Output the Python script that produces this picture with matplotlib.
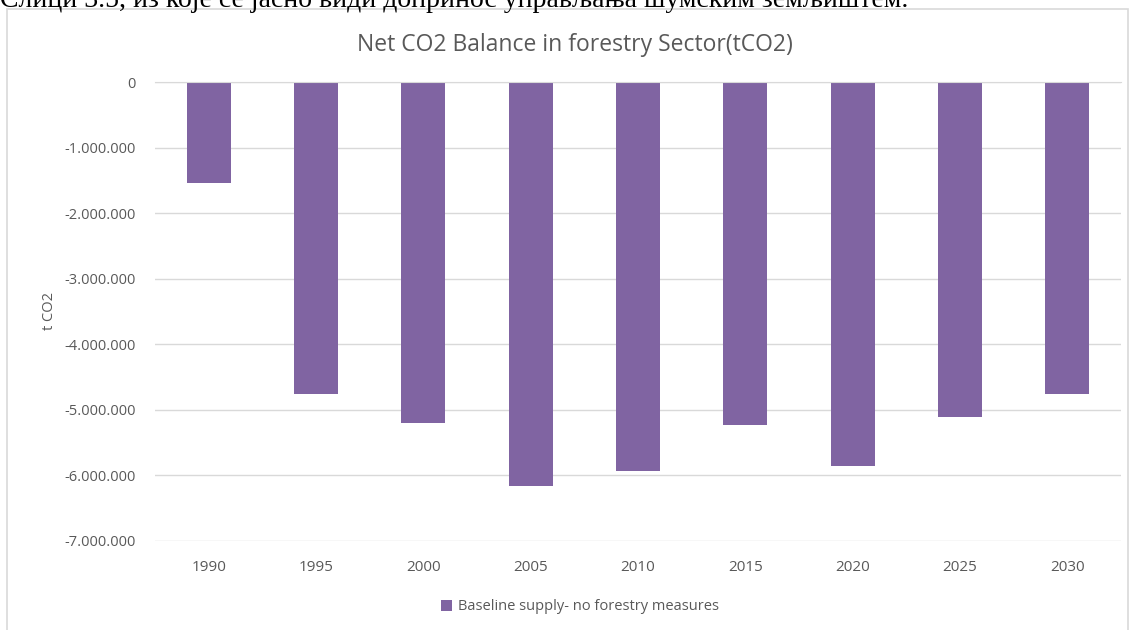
import matplotlib.pyplot as plt
from matplotlib.patches import Rectangle
from matplotlib.ticker import FuncFormatter

years = ['1990', '1995', '2000', '2005', '2010', '2015', '2020', '2025', '2030']
balance = [-1540000, -4760000, -5200000, -6160000, -5930000, -5230000, -5850000, -5110000, -4760000]
yticks = [0, -1000000, -2000000, -3000000, -4000000, -5000000, -6000000, -7000000]

purple = '#8064A2'
grey_text = '#595959'
grid_col = '#D9D9D9'

plt.rcParams['font.family'] = ['Open Sans', 'DejaVu Sans']

W, H = 1135, 630
fig = plt.figure(figsize=(W / 100, H / 100), dpi=100)

# caption line of the surrounding document, cut at the top
fig.text(0.0, 1 - 7 / H, 'Слици 3.5, из које се јасно види допринос управљања шумским земљиштем.',
         family='Liberation Serif', fontsize=20, color='black', va='baseline', ha='left')

# chart frame
fig.patches.append(Rectangle((7 / W, -0.01), 1121 / W, 1 - 9 / H + 0.01,
                             transform=fig.transFigure, fill=False, edgecolor=grid_col, lw=1.2))

ax = fig.add_axes([155 / W, 1 - 541 / H, 966 / W, 459 / H])
x = range(len(years))
ax.bar(x, balance, width=0.41, color=purple, label='Baseline supply- no forestry measures', zorder=2)

ax.set_xlim(-0.5, len(years) - 0.5)
ax.set_ylim(-7000000, 0)
ax.set_yticks(yticks)
ax.yaxis.set_major_formatter(FuncFormatter(lambda v, p: f'{int(v):,}'.replace(',', '.')))
ax.set_xticks(list(x))
ax.set_xticklabels(years)
ax.grid(axis='y', color=grid_col, lw=1, zorder=0)
ax.tick_params(axis='y', length=0, labelsize=10.5, labelcolor=grey_text, pad=14)
ax.tick_params(axis='x', length=0, labelsize=11, labelcolor=grey_text, pad=14)
for s in ['left', 'right', 'bottom']:
    ax.spines[s].set_visible(False)
ax.spines['top'].set_color(grid_col)
ax.set_ylabel('t CO2', fontsize=10.5, color=grey_text, labelpad=5)

fig.text(575 / W, 1 - 45 / H, 'Net CO2 Balance in forestry Sector(tCO2)',
         fontsize=16.5, color=grey_text, ha='center', va='center')

fig.legend(loc='center', bbox_to_anchor=(580 / W, 1 - 607 / H), frameon=False,
           fontsize=10.5, labelcolor=grey_text, handlelength=0.7, handleheight=0.7, handletextpad=0.4)

fig.savefig('out.png', dpi=100)
